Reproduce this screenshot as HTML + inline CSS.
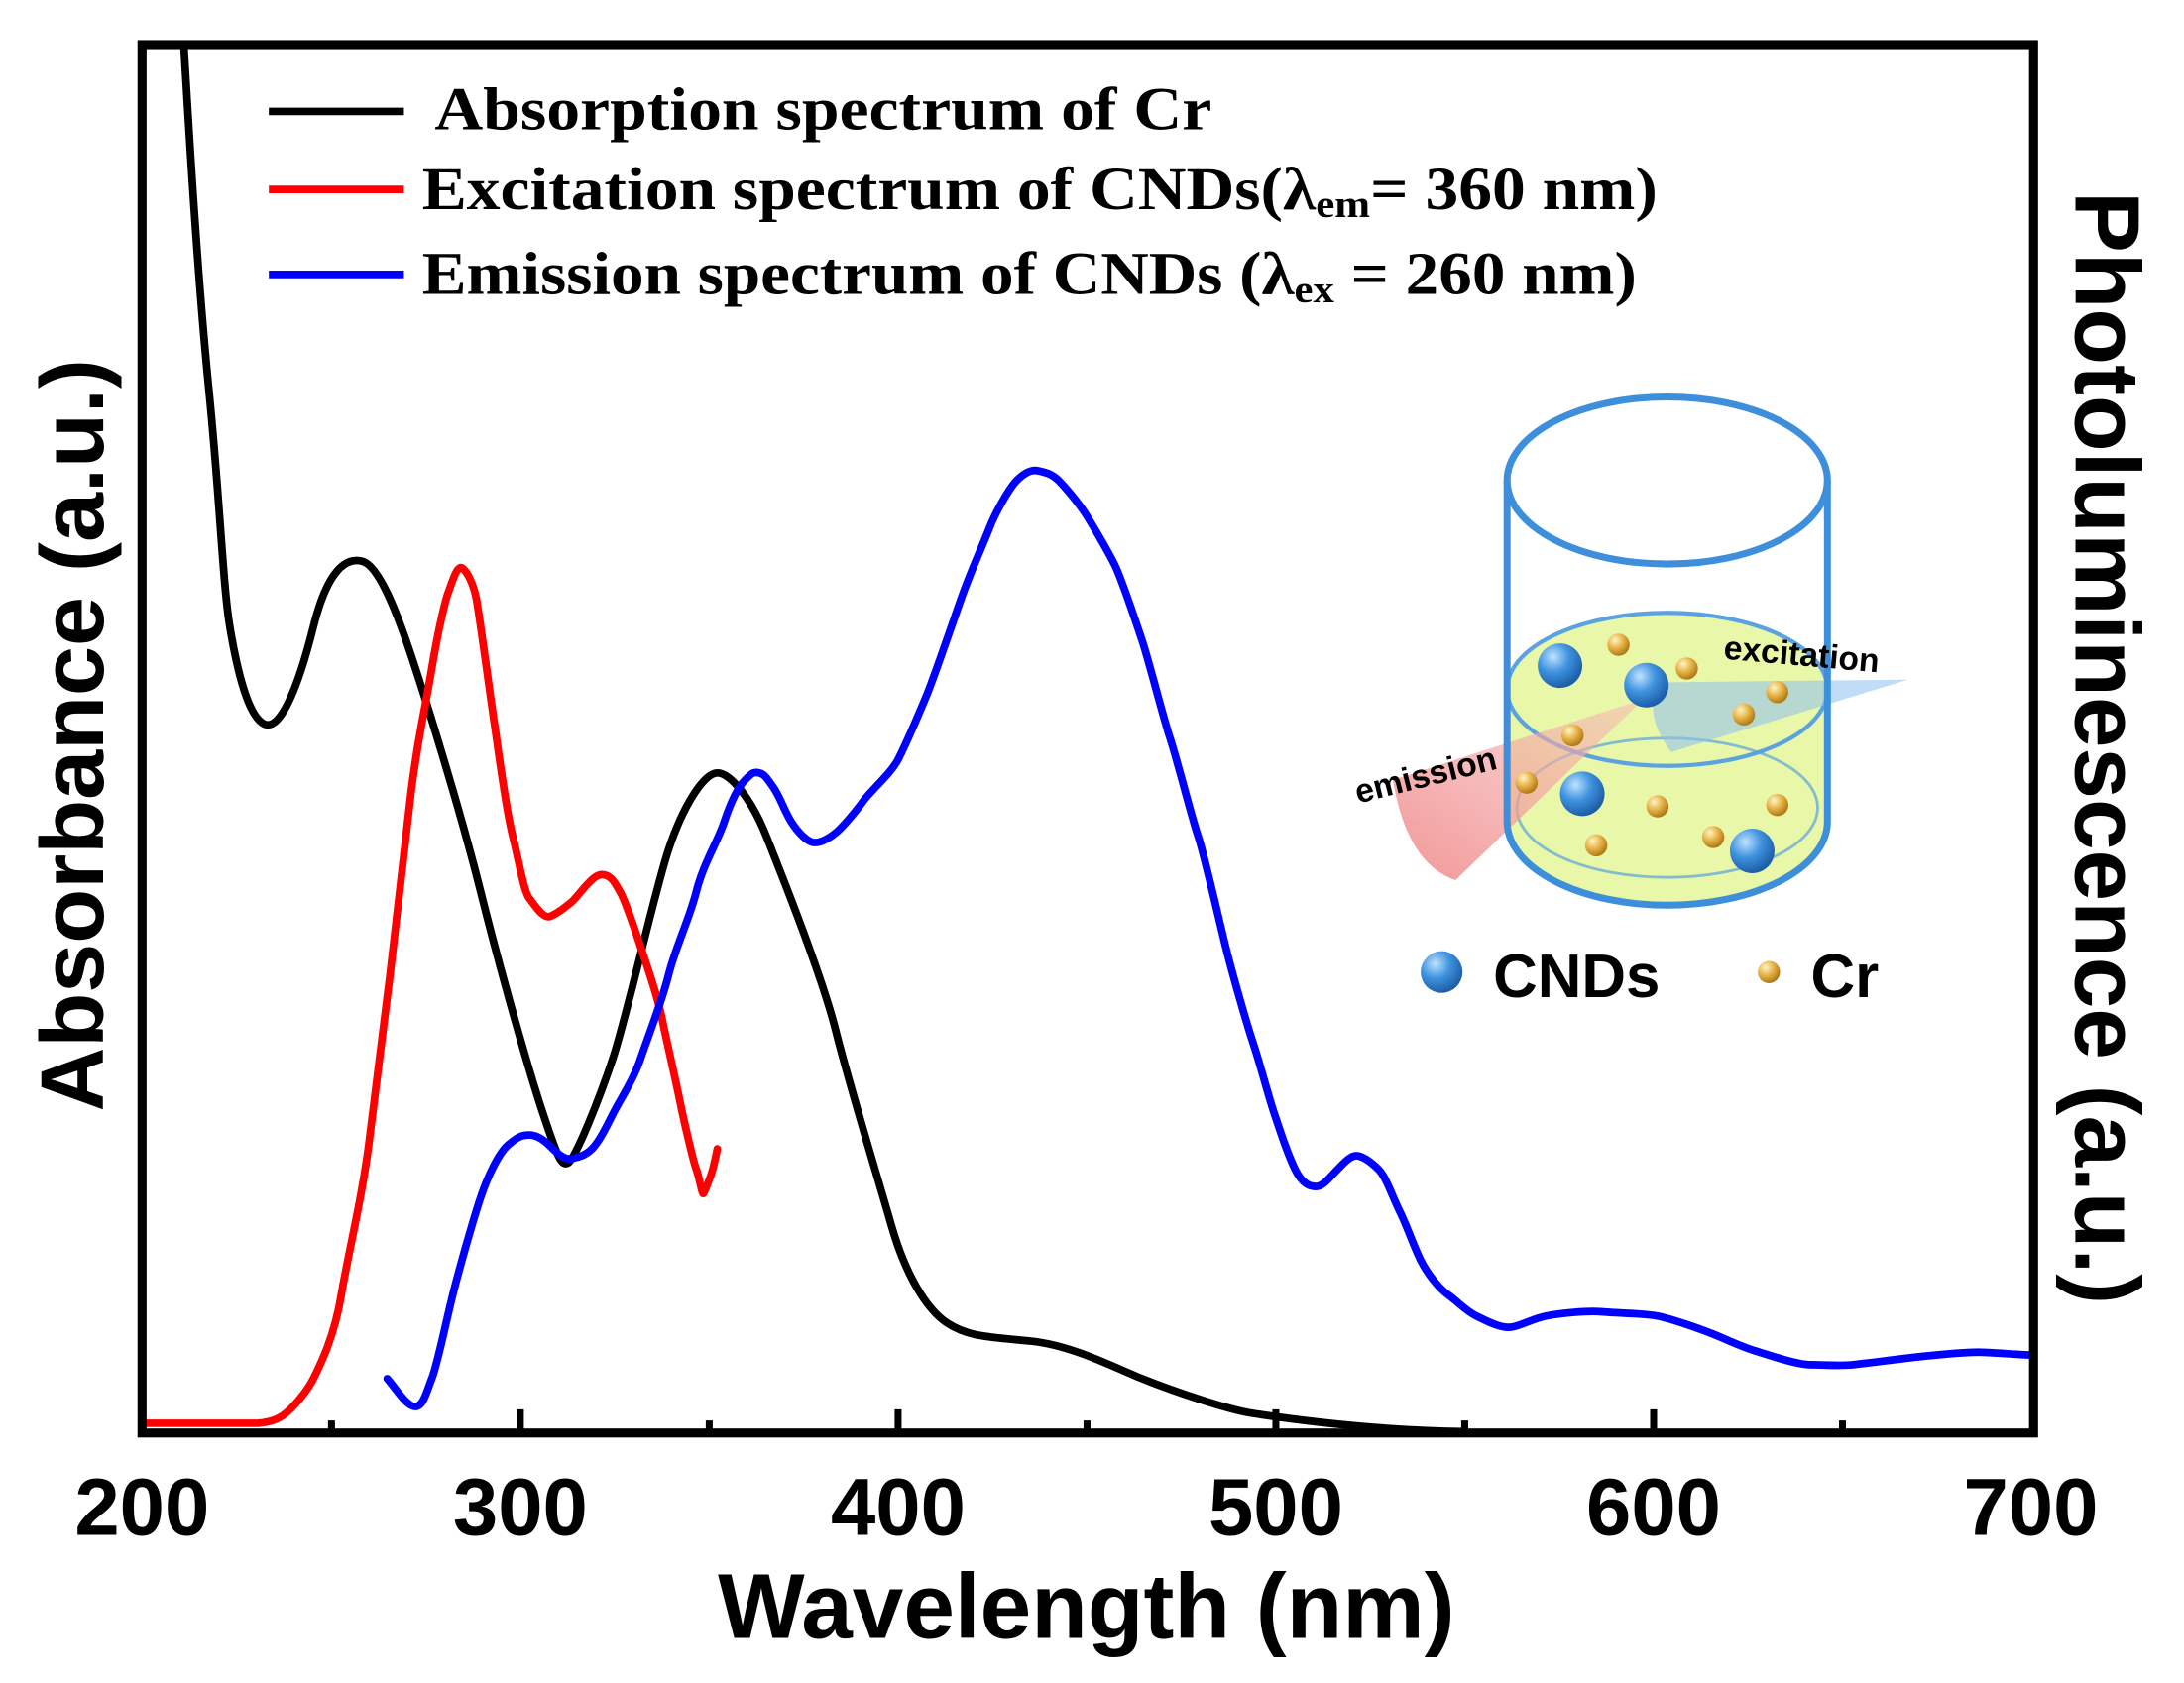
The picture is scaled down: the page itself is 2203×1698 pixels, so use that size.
<!DOCTYPE html>
<html><head><meta charset="utf-8"><style>
html,body{margin:0;padding:0;background:#fff;}
svg{display:block;}
</style></head><body>
<svg width="2203" height="1698" viewBox="0 0 1568 1208.5" xmlns="http://www.w3.org/2000/svg">
<defs>
<radialGradient id="gb" cx="0.35" cy="0.3" r="0.7"><stop offset="0" stop-color="#bfe3ff"/><stop offset="0.5" stop-color="#3f93df"/><stop offset="1" stop-color="#1d5fa8"/></radialGradient>
<radialGradient id="gy" cx="0.35" cy="0.3" r="0.7"><stop offset="0" stop-color="#fff4c8"/><stop offset="0.5" stop-color="#e8b64a"/><stop offset="1" stop-color="#b07a18"/></radialGradient>
<linearGradient id="gr" x1="1" y1="0" x2="0" y2="1"><stop offset="0" stop-color="#f7b6b6" stop-opacity="0.5"/><stop offset="1" stop-color="#f08a8a" stop-opacity="0.9"/></linearGradient>
</defs>
<rect width="1568" height="1208.5" fill="#fff"/>

<!-- inset -->
<g>
<path d="M1082,495 A115,55 0 0 1 1312,495 L1312,590 A115,60 0 0 1 1082,590 Z" fill="#e8f7a8"/>
<ellipse cx="1197" cy="495" rx="115" ry="55" fill="none" stroke="#5aa2e0" stroke-width="3"/>
<ellipse cx="1197" cy="580" rx="108" ry="50" fill="none" stroke="#5aa2e0" stroke-width="2" opacity="0.7"/>
<path d="M1190,490 L1370,488 L1200,540 Q1180,515 1190,490Z" fill="#8cc0f0" opacity="0.55"/>
<path d="M1180,502 L1000,560 Q1010,620 1045,632 Z" fill="url(#gr)"/>
<ellipse cx="1197" cy="345" rx="115" ry="60" fill="none" stroke="#3d8fdc" stroke-width="5"/>
<line x1="1082" y1="345" x2="1082" y2="590" stroke="#3d8fdc" stroke-width="5"/>
<line x1="1312" y1="345" x2="1312" y2="590" stroke="#3d8fdc" stroke-width="5"/>
<path d="M1082,590 A115,60 0 0 0 1312,590" fill="none" stroke="#3d8fdc" stroke-width="5"/>
<g fill="url(#gb)">
<circle cx="1120" cy="478" r="16"/><circle cx="1182" cy="492" r="16"/><circle cx="1136" cy="570" r="16"/><circle cx="1258" cy="611" r="16"/>
</g>
<g fill="url(#gy)">
<circle cx="1162" cy="463" r="8"/><circle cx="1211" cy="480" r="8"/><circle cx="1276" cy="497" r="8"/><circle cx="1252" cy="513" r="8"/><circle cx="1129" cy="528" r="8"/><circle cx="1096" cy="562" r="8"/><circle cx="1190" cy="579" r="8"/><circle cx="1276" cy="578" r="8"/><circle cx="1146" cy="607" r="8"/><circle cx="1230" cy="601" r="8"/>
</g>
<text x="1237" y="473" font-family="Liberation Sans, sans-serif" font-weight="bold" font-size="24" transform="rotate(5 1237 473)">excitation</text>
<text x="975" y="577" font-family="Liberation Sans, sans-serif" font-weight="bold" font-size="24" transform="rotate(-14 975 577)">emission</text>
<circle cx="1035" cy="698" r="15" fill="url(#gb)"/>
<text x="1072" y="716" font-family="Liberation Sans, sans-serif" font-weight="bold" font-size="44">CNDs</text>
<circle cx="1270" cy="698" r="8" fill="url(#gy)"/>
<text x="1300" y="716" font-family="Liberation Sans, sans-serif" font-weight="bold" font-size="44">Cr</text>
</g>

<g fill="none" stroke-width="5.5" stroke-linejoin="round" stroke-linecap="round">
<path stroke="#000" d="M132,32 C136,100 142,200 150,280 S160,420 165,450 S178,515 190,520 S215,490 225,450 S248,400 260,403 S285,440 295,470 S330,580 345,640 S380,770 390,800 S403,838 408,835 S430,790 440,760 S470,640 480,610 S505,555 515,555 S540,575 550,600 S590,700 600,740 S630,845 640,880 S665,940 680,950 S710,960 740,963 S800,982 820,990 S880,1012 900,1015 S980,1027 1050,1028"/>
<path stroke="#f00" d="M102,1022 L185,1022 C195,1021 200,1019 205,1015 S220,1000 225,990 S240,960 245,930 S260,860 265,820 S275,740 280,700 S290,610 295,570 S305,510 310,480 S320,430 322,425 S328,405 332,408 S340,420 342,430 S352,500 355,520 S363,580 368,600 S376,640 380,645 S390,660 395,658 S405,652 410,648 S425,628 432,628 S442,635 445,640 S455,665 460,680 S472,715 475,730 S485,775 488,790 S498,835 500,840 S504,858 505,857 S508,850 510,845 S514,830 515,825"/>
<path stroke="#00f" d="M278,990 C285,998 292,1010 298,1010 S306,1000 310,990 S320,950 325,930 S340,875 345,860 S358,828 365,822 S375,815 380,815 S390,818 395,823 S405,833 410,832 S420,830 425,825 S435,810 440,800 S455,775 460,760 S475,720 480,700 S495,660 500,640 S515,605 520,590 S530,565 535,560 S541,554 545,555 S550,558 555,565 S563,582 568,590 S580,605 585,605 S595,602 600,598 S615,582 620,575 S640,555 645,545 S660,512 665,500 S683,450 690,430 S705,393 710,380 S725,350 730,345 S740,337 745,338 S755,340 760,345 S775,362 780,370 S795,395 800,405 S815,445 820,460 S835,515 840,530 S855,585 860,600 S875,660 880,680 S895,735 900,750 S910,785 915,800 S925,830 930,840 S940,852 945,852 S955,845 960,840 S970,829 975,830 S985,835 990,840 S1000,860 1005,870 S1015,895 1020,905 S1033,925 1040,930 S1052,941 1060,945 S1078,954 1085,953 S1100,947 1110,945 S1140,941 1150,942 S1180,943 1190,945 S1220,954 1230,958 S1250,967 1260,970 S1290,980 1300,980 S1320,981 1330,980 S1370,975 1380,974 S1410,971 1420,971 S1450,973 1458,973"/>
</g>

<!-- axes -->
<rect x="102" y="32" width="1358" height="997" fill="none" stroke="#000" stroke-width="6.5"/>
<g stroke="#000" stroke-width="5">
<line x1="373.6" y1="1029" x2="373.6" y2="1012"/><line x1="644.8" y1="1029" x2="644.8" y2="1012"/><line x1="916" y1="1029" x2="916" y2="1012"/><line x1="1187.2" y1="1029" x2="1187.2" y2="1012"/>
<line x1="238" y1="1029" x2="238" y2="1020"/><line x1="509.2" y1="1029" x2="509.2" y2="1020"/><line x1="780.4" y1="1029" x2="780.4" y2="1020"/><line x1="1051.6" y1="1029" x2="1051.6" y2="1020"/><line x1="1322.8" y1="1029" x2="1322.8" y2="1020"/>
</g>
<g font-family="Liberation Sans, sans-serif" font-weight="bold" font-size="58" text-anchor="middle">
<text x="102" y="1102">200</text><text x="373.6" y="1102">300</text><text x="644.8" y="1102">400</text><text x="916" y="1102">500</text><text x="1187.2" y="1102">600</text><text x="1458" y="1102">700</text>
<text x="780" y="1176" font-size="66">Wavelength (nm)</text>
<text transform="translate(74,528) rotate(-90)" font-size="64">Absorbance (a.u.)</text>
<text transform="translate(1490,537) rotate(90)" font-size="66">Photoluminescence (a.u.)</text>
</g>

<!-- legend -->
<g stroke-width="5.5">
<line x1="193" y1="80" x2="290" y2="80" stroke="#000"/>
<line x1="193" y1="136" x2="290" y2="136" stroke="#f00"/>
<line x1="193" y1="197" x2="290" y2="197" stroke="#00f"/>
</g>
<g font-family="Liberation Serif, serif" font-weight="bold" font-size="44">
<text x="312" y="93" textLength="558" lengthAdjust="spacingAndGlyphs">Absorption spectrum of Cr</text>
<text x="303" y="150" textLength="887" lengthAdjust="spacingAndGlyphs">Excitation spectrum of CNDs(λ<tspan font-size="28" dy="6">em</tspan><tspan dy="-6">= 360 nm)</tspan></text>
<text x="303" y="211" textLength="872" lengthAdjust="spacingAndGlyphs">Emission spectrum of CNDs (λ<tspan font-size="28" dy="6">ex</tspan><tspan dy="-6"> = 260 nm)</tspan></text>
</g>
</svg>
</body></html>
